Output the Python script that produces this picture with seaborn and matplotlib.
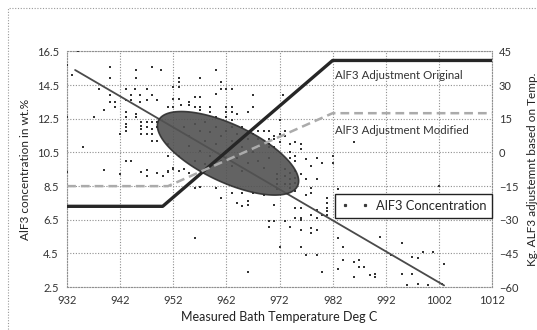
import numpy as np
import matplotlib
matplotlib.use("Agg")
import matplotlib.pyplot as plt
from matplotlib.lines import Line2D
from matplotlib.patches import Rectangle
import seaborn as sns

# AlF3 concentration samples (bath temperature, wt.%)
temp_c = [934, 932, 933, 940, 940, 945, 948, 945, 949.7, 938, 940, 940, 941, 941, 939, 937, 932,
          943, 944, 944.8, 945.7, 947, 948, 943, 944, 945.7, 947, 949, 943, 943, 945, 945, 943,
          943, 943, 942, 946, 946, 946, 946, 947, 947, 947, 948, 948, 948, 949, 949, 949, 948,
          935, 943, 944,
          932, 939, 942, 946, 947, 947, 949, 950, 951, 952,
          951, 952, 953, 954, 955, 956, 957, 960, 961, 963, 965, 964, 965, 966, 966, 967, 969,
          970, 971, 956, 966,
          960, 953, 953, 957, 952, 953, 961, 961, 962, 963, 960, 967, 956, 957, 952, 953, 955,
          955, 953.5, 956, 957, 957, 959, 959, 962, 963, 962, 963, 964, 966, 967, 960, 962, 963,
          963, 965, 967, 968, 969, 970, 968, 970, 971, 968, 970, 971, 951, 952, 951, 951, 953,
          972.7, 972, 971, 972, 973, 973, 970, 972, 974, 975, 976, 976, 975, 974, 974, 975, 977,
          978, 979, 980, 982, 982, 986,
          971.5, 971.5, 971.5, 971.5, 973, 973, 973, 974, 974, 974, 974, 975, 975, 975, 975, 976,
          977, 979, 978, 978, 977, 981, 981, 981, 981, 981, 980, 983, 971, 975, 976, 978, 979,
          979, 976, 975, 976, 970, 973, 974, 976, 978, 978, 979, 972, 976, 977, 979, 983, 984,
          983, 984, 980, 986, 987, 987, 988, 986, 990, 991,
          995, 993, 997, 998, 999, 1001, 1003, 995, 997, 990, 989, 996, 998, 1000, 1002.6, 1002,
          954, 955, 956, 957, 958, 958, 959, 960, 960, 961, 962, 962, 963, 964, 964, 965, 966,
          966, 967, 968, 969, 970, 957, 959, 961, 963, 965, 955, 956, 958]
alf3_c = [16.5, 15.7, 15.1, 15.6, 14.9, 15.4, 15.6, 14.9, 15.4, 14.25, 13.9, 13.5, 13.5, 13.2, 13.0, 12.6, 12.6,
          14.3, 13.9, 14.3, 13.9, 14.3, 13.9, 13.6, 13.6, 13.5, 13.6, 13.6, 12.9, 12.6, 12.8, 12.6, 12.2,
          12.0, 11.8, 11.6, 12.3, 12.1, 11.9, 11.6, 12.3, 12.0, 11.6, 12.3, 11.9, 11.6, 12.3, 12.0, 11.2, 11.2,
          10.8, 10.0, 10.0,
          9.35, 9.45, 9.2, 9.35, 9.45, 9.1, 9.3, 9.1, 9.35, 9.5,
          9.4, 9.6, 9.4, 9.5, 9.3, 8.4, 8.45, 8.4, 7.8, 8.1, 8.1, 7.5, 7.3, 7.4, 7.6, 8.1, 8.0,
          6.1, 6.4, 5.4, 3.4,
          15.4, 14.9, 14.7, 14.9, 14.4, 14.4, 14.7, 14.3, 14.3, 14.3, 14.0, 13.9, 13.8, 13.8, 13.7, 13.7, 13.5,
          13.3, 13.3, 13.2, 13.2, 13.0, 13.2, 12.9, 13.2, 13.2, 12.9, 12.9, 12.8, 12.9, 13.2, 12.6, 12.6, 12.4,
          12.0, 12.0, 11.6, 11.8, 11.8, 11.8, 11.3, 11.3, 11.3, 10.8, 10.8, 10.8, 13.2, 13.2, 11.0, 10.3, 10.3,
          13.9, 12.4, 11.5, 11.6, 11.8, 11.5, 11.0, 11.1, 11.0, 11.1, 11.0, 10.7, 10.3, 10.5, 10.2, 10.0, 10.1,
          9.7, 10.2, 9.9, 10.3, 9.9, 11.1,
          9.2, 8.9, 8.6, 8.3, 9.5, 9.1, 8.6, 9.3, 8.9, 8.6, 8.4, 9.4, 9.0, 8.7, 8.2, 9.2,
          8.9, 8.9, 8.4, 8.1, 8.0, 7.8, 7.5, 7.2, 7.0, 6.8, 6.8, 8.3, 7.4, 7.2, 7.2, 6.8, 7.1,
          6.6, 6.6, 6.6, 6.5, 6.4, 6.4, 6.1, 5.9, 6.0, 5.7, 5.9, 4.9, 4.9, 4.4, 4.4, 5.4, 4.9,
          3.6, 4.1, 3.4, 4.0, 4.1, 3.7, 3.7, 3.1, 3.1, 5.5,
          5.1, 4.4, 4.3, 4.2, 4.6, 4.6, 3.9, 3.3, 3.3, 3.3, 3.2, 2.6, 2.7, 2.6, 2.7, 8.5,
          12.0, 11.5, 12.2, 11.8, 12.3, 11.2, 11.7, 12.0, 11.0, 11.5, 11.8, 10.6, 11.2, 11.6, 10.2, 10.8, 11.3,
          9.9, 10.5, 10.0, 9.6, 10.2, 10.6, 10.3, 10.0, 9.7, 9.4, 10.9, 10.0, 9.8]

# trend line of concentration vs temperature
trend_x = [933.5, 1003]
trend_y = [15.4, 2.6]

# AlF3 adjustment schedules (kg, right axis)
orig_x = [932, 950, 982, 1012]
orig_y = [-24, -24, 41, 41]
mod_x = [932, 951, 982, 1012]
mod_y = [-15, -15, 17.5, 17.5]

# highlighted region (centre and half-axis vectors in data units)
ell_center = (962.3, 10.45)
ell_major = (13.1, -1.94)
ell_minor = (2.3, 1.55)

sns.set_style("white")
plt.rcParams['font.family'] = ['Lato', 'DejaVu Sans']

fig = plt.figure(figsize=(5.37, 3.30), dpi=100)
ax = fig.add_axes([0.125, 0.130, 0.791, 0.714])

grid_kw = dict(color='#8f8f8f', linestyle=(0, (1, 1.5)), linewidth=0.8)

sns.scatterplot(x=temp_c, y=alf3_c, ax=ax, marker='s', s=3, color='#333333',
                linewidth=0, zorder=3, legend=False)

t = np.linspace(0, 2 * np.pi, 200)
ex = ell_center[0] + np.cos(t) * ell_major[0] + np.sin(t) * ell_minor[0]
ey = ell_center[1] + np.cos(t) * ell_major[1] + np.sin(t) * ell_minor[1]
ax.fill(ex, ey, facecolor='#525252', edgecolor='#2e2e2e', lw=1.2, alpha=0.9, zorder=4)

sns.lineplot(x=trend_x, y=trend_y, ax=ax, color='#4a4a4a', lw=1.3, zorder=3.5)

ax.set_xlim(932, 1012)
ax.set_ylim(2.5, 16.5)
ax.set_xticks(range(932, 1013, 10))
ax.set_yticks(np.arange(2.5, 16.6, 2))
ax.set_yticklabels([f"{v:.1f}" for v in np.arange(2.5, 16.6, 2)])
ax.grid(True, **grid_kw)
ax.set_axisbelow(True)
for sp in ax.spines.values():
    sp.set_color('#8f8f8f')
    sp.set_linestyle((0, (1, 1.5)))
    sp.set_linewidth(0.8)
ax.tick_params(length=0, labelsize=8, colors='#333333', pad=6)
ax.set_xlabel('Measured Bath Temperature Deg C', fontsize=9, color='#222222', labelpad=3)
ax.set_ylabel('AlF3 concentration in wt.%', fontsize=8.5, color='#222222', labelpad=4)

ax2 = ax.twinx()
sns.lineplot(x=orig_x, y=orig_y, ax=ax2, color='#262626', lw=2.4)
sns.lineplot(x=mod_x, y=mod_y, ax=ax2, color='#ababab', lw=1.8, linestyle=(0, (3.5, 2)))
ax2.set_ylim(-60, 45)
ax2.set_yticks(range(-60, 46, 15))
ax2.grid(False)
for sp in ax2.spines.values():
    sp.set_visible(False)
ax2.tick_params(length=0, labelsize=8, colors='#333333', pad=5)
ax2.set_ylabel('Kg. ALF3 adjustemnt based on Temp.', fontsize=8.5, color='#222222', labelpad=6)

ax2.text(982.4, 34.5, 'AlF3 Adjustment Original', fontsize=8.3, va='center', color='#333333')
ax2.text(982.4, 10, 'AlF3 Adjustment Modified', fontsize=8.3, va='center', color='#333333')

handle = Line2D([], [], marker='s', ms=1.3, ls='none', color='#3a3a3a')
leg = ax2.legend([handle], ['AlF3 Concentration'], loc='center right',
                 bbox_to_anchor=(1.0, 0.345), fontsize=9.3, numpoints=2, borderaxespad=0,
                 fancybox=False, framealpha=1, borderpad=0.45, handletextpad=0.5,
                 handlelength=2.2)
leg.get_frame().set_edgecolor('#222222')
leg.get_frame().set_linewidth(1.0)

fig.patches.append(Rectangle((8 / 537, -0.05), 1.0, 1.0 - 8 / 330 + 0.05, transform=fig.transFigure,
                             fill=False, ec='#9a9a9a', lw=0.8, linestyle=(0, (1, 1.5))))

fig.savefig('out.png', dpi=100)
